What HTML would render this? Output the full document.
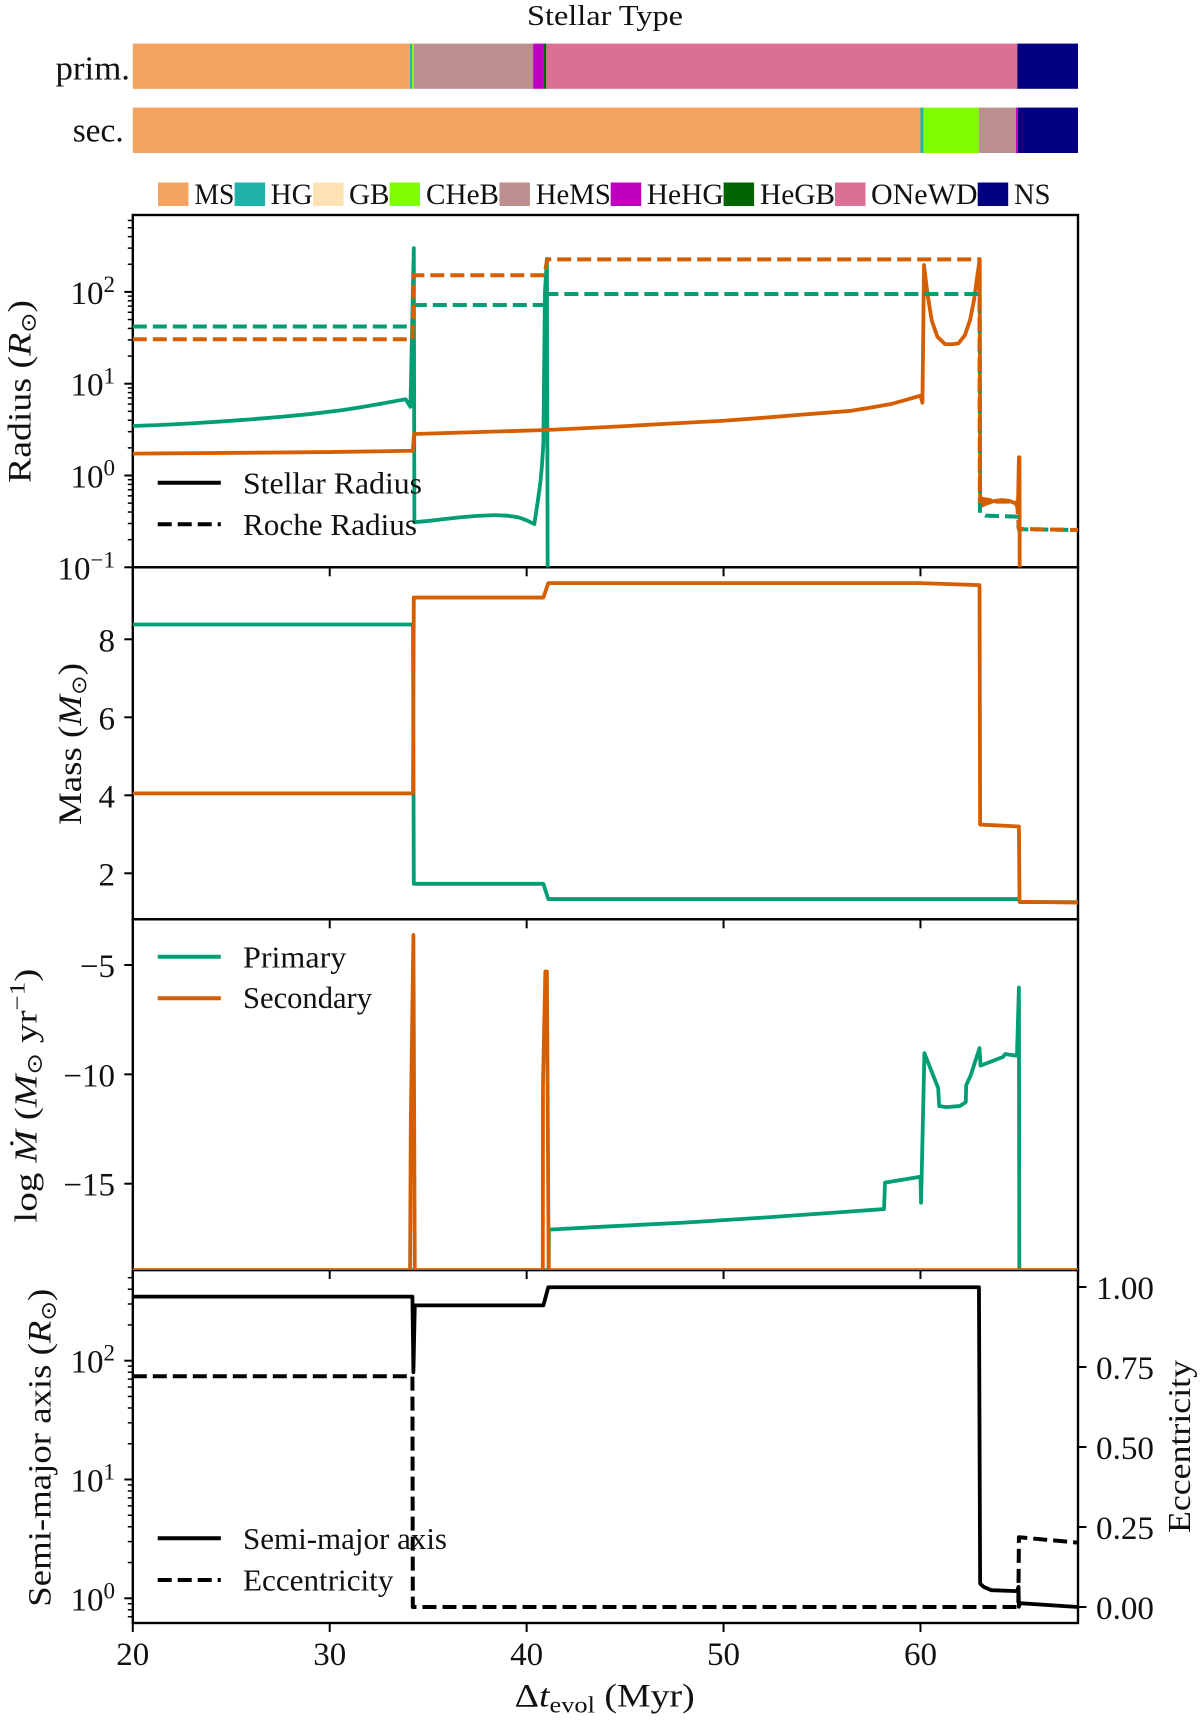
<!DOCTYPE html>
<html lang="en">
<head>
<meta charset="utf-8">
<title>Binary stellar evolution chart</title>
<style>
html,body{margin:0;padding:0;background:#fff;}
svg{display:block;}
text{font-family:"Liberation Serif","DejaVu Serif",serif;fill:#111;}
.sym{font-family:"DejaVu Sans",sans-serif;}
.it{font-style:italic;}
</style>
</head>
<body>
<svg id="chart" xmlns="http://www.w3.org/2000/svg" width="1200" height="1720" viewBox="0 0 1200 1720">
  <rect x="0" y="0" width="1200" height="1720" fill="#ffffff"/>
  <defs>
    <clipPath id="clip-radius"><rect x="132.8" y="215" width="945.2" height="352.3"/></clipPath>
    <clipPath id="clip-mass"><rect x="132.8" y="567.3" width="945.2" height="352"/></clipPath>
    <clipPath id="clip-mdot"><rect x="132.8" y="919.3" width="945.2" height="350.7"/></clipPath>
    <clipPath id="clip-sep"><rect x="132.8" y="1270" width="945.2" height="353"/></clipPath>
  </defs>

  <text x="527" y="25" font-size="29" textLength="156" lengthAdjust="spacingAndGlyphs">Stellar Type</text>
  <text x="55.5" y="79.3" font-size="34" textLength="74.5" lengthAdjust="spacingAndGlyphs">prim.</text>
  <text x="72.7" y="141.7" font-size="34" textLength="51" lengthAdjust="spacingAndGlyphs">sec.</text>

  <g id="bars"></g>

  <g font-size="30">
    <rect x="158" y="182.5" width="30.5" height="23.5" fill="#F4A460"/>
    <text x="194.4" y="204" textLength="40" lengthAdjust="spacingAndGlyphs">MS</text>
    <rect x="234.6" y="182.5" width="30.5" height="23.5" fill="#20B2AA"/>
    <text x="270.6" y="204" textLength="42" lengthAdjust="spacingAndGlyphs">HG</text>
    <rect x="313" y="182.5" width="30.5" height="23.5" fill="#FFE2B3"/>
    <text x="349" y="204" textLength="40.5" lengthAdjust="spacingAndGlyphs">GB</text>
    <rect x="389.6" y="182.5" width="30.5" height="23.5" fill="#7FFF00"/>
    <text x="426" y="204" textLength="73" lengthAdjust="spacingAndGlyphs">CHeB</text>
    <rect x="499.4" y="182.5" width="30.5" height="23.5" fill="#BC8F8F"/>
    <text x="535.8" y="204" textLength="75" lengthAdjust="spacingAndGlyphs">HeMS</text>
    <rect x="610.7" y="182.5" width="30.5" height="23.5" fill="#BF00BF"/>
    <text x="646.7" y="204" textLength="77" lengthAdjust="spacingAndGlyphs">HeHG</text>
    <rect x="723.6" y="182.5" width="30.5" height="23.5" fill="#006400"/>
    <text x="760" y="204" textLength="75" lengthAdjust="spacingAndGlyphs">HeGB</text>
    <rect x="835" y="182.5" width="30.5" height="23.5" fill="#DB7093"/>
    <text x="871" y="204" textLength="106.5" lengthAdjust="spacingAndGlyphs">ONeWD</text>
    <rect x="977.7" y="182.5" width="30.5" height="23.5" fill="#000080"/>
    <text x="1014" y="204" textLength="36.5" lengthAdjust="spacingAndGlyphs">NS</text>
  </g>

  <g id="axes"></g>
  <g id="marks"></g>

  <!-- axis titles -->
  <text transform="translate(30.6,483) rotate(-90)" font-size="33" textLength="183" lengthAdjust="spacingAndGlyphs">Radius (<tspan class="it">R</tspan><tspan class="sym" font-size="21" dy="5">⊙</tspan><tspan dy="-5">)</tspan></text>
  <text transform="translate(81,825) rotate(-90)" font-size="33" textLength="162" lengthAdjust="spacingAndGlyphs">Mass (<tspan class="it">M</tspan><tspan class="sym" font-size="21" dy="5">⊙</tspan><tspan dy="-5">)</tspan></text>
  <text transform="translate(36.4,1222.7) rotate(-90)" font-size="32" textLength="254" lengthAdjust="spacingAndGlyphs">log <tspan class="it">Ṁ</tspan> (<tspan class="it">M</tspan><tspan class="sym" font-size="21" dy="5">⊙</tspan><tspan dy="-5"> yr</tspan><tspan font-size="22" dy="-12">−1</tspan><tspan dy="12">)</tspan></text>
  <text transform="translate(50.5,1606.7) rotate(-90)" font-size="33" textLength="318" lengthAdjust="spacingAndGlyphs">Semi-major axis (<tspan class="it">R</tspan><tspan class="sym" font-size="21" dy="5">⊙</tspan><tspan dy="-5">)</tspan></text>
  <text transform="translate(1190,1533) rotate(-90)" font-size="32" textLength="173" lengthAdjust="spacingAndGlyphs">Eccentricity</text>
  <text x="514.7" y="1706.7" font-size="33" textLength="180" lengthAdjust="spacingAndGlyphs">Δ<tspan class="it">t</tspan><tspan font-size="23" dy="6">evol</tspan><tspan dy="-6"> (Myr)</tspan></text>

  <!-- legends -->
  <g font-size="31">
    <line x1="157.7" x2="220.8" y1="482.7" y2="482.7" stroke="#000" stroke-width="4"/>
    <text x="243" y="493.3" textLength="179" lengthAdjust="spacingAndGlyphs">Stellar Radius</text>
    <line x1="157.7" x2="220.8" y1="524.3" y2="524.3" stroke="#000" stroke-width="4" stroke-dasharray="14 6"/>
    <text x="243" y="535" textLength="174" lengthAdjust="spacingAndGlyphs">Roche Radius</text>
  </g>
  <g font-size="31">
    <line x1="157.7" x2="220.8" y1="956.7" y2="956.7" stroke="#009E73" stroke-width="4"/>
    <text x="243" y="967.3" textLength="103.3" lengthAdjust="spacingAndGlyphs">Primary</text>
    <line x1="157.7" x2="220.8" y1="998.3" y2="998.3" stroke="#D55E00" stroke-width="4"/>
    <text x="243" y="1008" textLength="129" lengthAdjust="spacingAndGlyphs">Secondary</text>
  </g>
  <g font-size="31">
    <line x1="157.7" x2="220.8" y1="1538.3" y2="1538.3" stroke="#000" stroke-width="4"/>
    <text x="243" y="1549" textLength="204" lengthAdjust="spacingAndGlyphs">Semi-major axis</text>
    <line x1="157.7" x2="220.8" y1="1580" y2="1580" stroke="#000" stroke-width="4" stroke-dasharray="14 6"/>
    <text x="243" y="1590.7" textLength="150.4" lengthAdjust="spacingAndGlyphs">Eccentricity</text>
  </g>
</svg>

<script>
// ---------- data ----------
const typeColors = {MS:'#F4A460',HG:'#20B2AA',GB:'#FFE2B3',CHeB:'#7FFF00',HeMS:'#BC8F8F',HeHG:'#BF00BF',HeGB:'#006400',ONeWD:'#DB7093',NS:'#000080'};

const primaryTypes = ['MS','HG','CHeB','HeMS','HeHG','HeGB','ONeWD','NS'];
const primaryTypeEnds = [34.08,34.18,34.27,40.33,40.88,41.0,64.92,68];
const secondaryTypes = ['MS','HG','CHeB','HeMS','HeHG','NS'];
const secondaryTypeEnds = [60.0,60.15,62.97,64.85,64.95,68];

const radiusPrimaryT = [20,21.5,23,24.5,26,27.5,29,30.5,31.5,32.7,33.3,33.86,34.1,34.27,34.3,35,35.8,36.6,37.5,38.4,39,39.6,40,40.39,40.5,40.6,40.7,40.78,40.85,40.93,41.03,41.07];
const radiusPrimaryV = [3.46,3.56,3.7,3.88,4.09,4.35,4.67,5.1,5.5,6.1,6.45,6.76,5.6,300,0.31,0.32,0.335,0.35,0.363,0.37,0.365,0.35,0.325,0.296,0.42,0.59,0.85,1.3,2.24,100,229,0.05];
const radiusSecondaryT = [20,30,34.22,34.28,41,43,45,47,49,50,52,54,56.4,57.5,58.5,59.3,60,60.1,60.18,60.35,60.57,60.86,61.25,61.59,61.93,62.26,62.52,62.72,62.86,63.01,63.03,63.1,63.55,63.03,63.3,63.7,64.1,64.5,64.8,64.95,65,65.03,65.04];
const radiusSecondaryV = [1.73,1.8,1.86,2.83,3.13,3.28,3.45,3.65,3.85,3.95,4.25,4.6,5.05,5.5,6.0,6.7,7.4,6.2,196,97,49,32.5,27,26.9,27.5,33.9,49.4,81.6,135,228,0.59,0.56,0.54,0.46,0.49,0.525,0.54,0.53,0.5,0.45,1.58,1.58,0.05];
const rochePrimaryT = [20,34.2,34.28,40.9,41.05,63,63.02,63.3,64.9,65,68];
const rochePrimaryV = [42,42,72,72,95,95,0.39,0.365,0.356,0.26,0.255];
const rocheSecondaryT = [20,34.2,34.28,40.9,41.05,63,63.02,64.9,65,68];
const rocheSecondaryV = [30.5,30.5,152,152,226,226,0.52,0.52,0.262,0.255];

const massPrimaryT = [20,34.23,34.27,40.85,41.1,65,65.05,68];
const massPrimaryV = [8.38,8.38,1.73,1.73,1.34,1.34,1.26,1.26];
const massSecondaryT = [20,34.23,34.27,40.85,41.1,60,63,63.03,65,65.03,68];
const massSecondaryV = [4.05,4.05,9.07,9.07,9.44,9.44,9.39,3.25,3.2,1.27,1.25];

const mdotPrimaryT = [20,41.12,41.13,44,48,52,56,58.15,58.2,60,60.03,60.2,60.9,60.95,61.3,62,62.3,62.32,62.55,63,63.05,64.2,64.3,64.5,64.9,65,65.02,68];
const mdotPrimaryV = [-18.95,-18.95,-17.1,-16.96,-16.78,-16.55,-16.3,-16.16,-14.95,-14.68,-15.87,-9.03,-10.63,-11.45,-11.5,-11.45,-11.27,-10.5,-10.05,-8.8,-9.6,-9.2,-9.07,-9.1,-9.15,-6.03,-18.95,-18.95];
const mdotSecondaryT = [20,34.08,34.12,34.25,34.32,40.82,40.83,40.95,41.03,41.12,68];
const mdotSecondaryV = [-18.95,-18.95,-12,-3.63,-18.95,-18.95,-10.5,-5.3,-5.3,-18.95,-18.95];

const semiMajorT = [20,34.2,34.25,34.32,40.85,41.1,62.97,63.03,63.2,63.6,64.9,64.98,65,65.05,68];
const semiMajorV = [346,346,80,292,292,415,415,1.33,1.25,1.17,1.15,1.25,0.85,0.91,0.845];
const eccentricityT = [20,34.2,34.22,64.97,65,68];
const eccentricityV = [0.721,0.721,0,0,0.218,0.201];

const timeTicks = [20,30,40,50,60];
const radiusExponents = [2,1,0,-1];
const massTicks = [8,6,4,2];
const mdotTicks = [-5,-10,-15];
const separationExponents = [2,1,0];
const eccentricityTicks = ['1.00','0.75','0.50','0.25','0.00'];

// ---------- axis functions ----------
const plotLeft = 132.8, plotRight = 1078;
const tMin = 20, tMax = 68;
const x = t => plotLeft + (t - tMin) * (plotRight - plotLeft) / (tMax - tMin);
const yRadius = v => 567.3 - (Math.log10(v) + 1) * 91.8;
const yMass = v => 873.3 - (v - 2) * 39;
const yMdot = v => 965 - (v + 5) * 21.87;
const ySep = v => 1598.3 - Math.log10(v) * 118.8;
const yEcc = v => 1607 - v * 320;

const NS = 'http://www.w3.org/2000/svg';
const barsGroup = document.getElementById('bars');
const marksGroup = document.getElementById('marks');
const axesGroup = document.getElementById('axes');

function make(tag, parent, attrs, name) {
  const el = document.createElementNS(NS, tag);
  for (const k in attrs) el.setAttribute(k, attrs[k]);
  
  
  parent.appendChild(el);
  return el;
}

// ---------- stellar type bars ----------
function drawBar(types, ends, top, height, label) {
  let start = tMin;
  types.forEach((type, i) => {
    make('rect', barsGroup, {x: x(start), y: top, width: x(ends[i]) - x(start), height: height, fill: typeColors[type]}, label + '-segment-' + type.toLowerCase());
    start = ends[i];
  });
}
drawBar(primaryTypes, primaryTypeEnds, 43.6, 45.2, 'primary');
drawBar(secondaryTypes, secondaryTypeEnds, 107.6, 45.4, 'secondary');

// ---------- series ----------
function drawSeries(ts, vs, yFn, color, clip, name, dashed) {
  const d = ts.map((t, i) => (i ? 'L' : 'M') + x(t).toFixed(2) + ' ' + yFn(vs[i]).toFixed(2)).join('');
  const attrs = {d: d, fill: 'none', stroke: color, 'stroke-width': dashed ? 4 : 3.8, 'stroke-linejoin': 'round', 'clip-path': 'url(#' + clip + ')'};
  if (dashed) attrs['stroke-dasharray'] = '14 6';
  make('path', marksGroup, attrs, name);
}
const green = '#009E73', orange = '#D55E00';
drawSeries(radiusPrimaryT, radiusPrimaryV, yRadius, green, 'clip-radius', 'primary-stellar-radius', false);
drawSeries(radiusSecondaryT, radiusSecondaryV, yRadius, orange, 'clip-radius', 'secondary-stellar-radius', false);
drawSeries(rochePrimaryT, rochePrimaryV, yRadius, green, 'clip-radius', 'primary-roche-radius', true);
drawSeries(rocheSecondaryT, rocheSecondaryV, yRadius, orange, 'clip-radius', 'secondary-roche-radius', true);
drawSeries(massPrimaryT, massPrimaryV, yMass, green, 'clip-mass', 'primary-mass', false);
drawSeries(massSecondaryT, massSecondaryV, yMass, orange, 'clip-mass', 'secondary-mass', false);
drawSeries(mdotPrimaryT, mdotPrimaryV, yMdot, green, 'clip-mdot', 'primary-mass-loss', false);
drawSeries(mdotSecondaryT, mdotSecondaryV, yMdot, orange, 'clip-mdot', 'secondary-mass-loss', false);
drawSeries(semiMajorT, semiMajorV, ySep, '#000', 'clip-sep', 'semi-major-axis-line', false);
drawSeries(eccentricityT, eccentricityV, yEcc, '#000', 'clip-sep', 'eccentricity-line', true);

// ---------- axes ----------
const panelEdges = [[215, 567.3, 'radius'], [567.3, 919.3, 'mass'], [919.3, 1270, 'mdot'], [1270, 1623, 'separation']];
panelEdges.forEach(p => {
  make('rect', axesGroup, {x: plotLeft, y: p[0], width: plotRight - plotLeft, height: p[1] - p[0], fill: 'none', stroke: '#000', 'stroke-width': 2.4}, p[2] + '-panel-frame');
  timeTicks.forEach(t => {
    make('line', axesGroup, {x1: x(t), x2: x(t), y1: p[1], y2: p[1] + 9, stroke: '#000', 'stroke-width': 2}, p[2] + '-x-tick');
  });
});

function leftTick(y, len, w, name) {
  make('line', axesGroup, {x1: plotLeft - len, x2: plotLeft, y1: y, y2: y, stroke: '#000', 'stroke-width': w}, name);
}
function logMinor(yFn, loExp, hiExp, top, bottom, name) {
  for (let e = loExp; e <= hiExp; e++) {
    for (let m = 2; m <= 9; m++) {
      const y = yFn(m * Math.pow(10, e));
      if (y >= top && y <= bottom) leftTick(y, 5, 1.5, name);
    }
  }
}
function powerLabel(exp, y, name) {
  const t = make('text', axesGroup, {x: 115, y: y, 'font-size': 33, 'text-anchor': 'end'}, name);
  const base = document.createElementNS(NS, 'tspan');
  base.textContent = '10';
  t.appendChild(base);
  const sup = document.createElementNS(NS, 'tspan');
  sup.setAttribute('font-size', '23');
  sup.setAttribute('dy', '-12');
  sup.textContent = String(exp).replace('-', '\u2212');
  t.appendChild(sup);
}

radiusExponents.forEach(e => {
  const y = yRadius(Math.pow(10, e));
  leftTick(y, 8.5, 2, 'radius-y-tick');
  powerLabel(e, y + 12, 'radius-y-tick-label');
});
logMinor(yRadius, -1, 2, 215, 567.3, 'radius-y-minor-tick');

massTicks.forEach(v => {
  const y = yMass(v);
  leftTick(y, 8.5, 2, 'mass-y-tick');
  const t = make('text', axesGroup, {x: 115, y: y + 12, 'font-size': 33, 'text-anchor': 'end'}, 'mass-y-tick-label');
  t.textContent = String(v);
});

mdotTicks.forEach(v => {
  const y = yMdot(v);
  leftTick(y, 8.5, 2, 'mdot-y-tick');
  const t = make('text', axesGroup, {x: 115, y: y + 12, 'font-size': 33, 'text-anchor': 'end'}, 'mdot-y-tick-label');
  t.textContent = String(v).replace('-', '\u2212');
});

separationExponents.forEach(e => {
  const y = ySep(Math.pow(10, e));
  leftTick(y, 8.5, 2, 'separation-y-tick');
  powerLabel(e, y + 12, 'separation-y-tick-label');
});
logMinor(ySep, -1, 2, 1270, 1623, 'separation-y-minor-tick');

eccentricityTicks.forEach(label => {
  const y = yEcc(parseFloat(label));
  make('line', axesGroup, {x1: plotRight, x2: plotRight + 8.5, y1: y, y2: y, stroke: '#000', 'stroke-width': 2}, 'eccentricity-tick');
  const t = make('text', axesGroup, {x: 1096, y: y + 12, 'font-size': 33, textLength: 58, lengthAdjust: 'spacingAndGlyphs'}, 'eccentricity-tick-label');
  t.textContent = label;
});

timeTicks.forEach(v => {
  const t = make('text', axesGroup, {x: x(v), y: 1665, 'font-size': 33, 'text-anchor': 'middle'}, 'time-tick-label');
  t.textContent = String(v);
});
</script>
</body>
</html>
